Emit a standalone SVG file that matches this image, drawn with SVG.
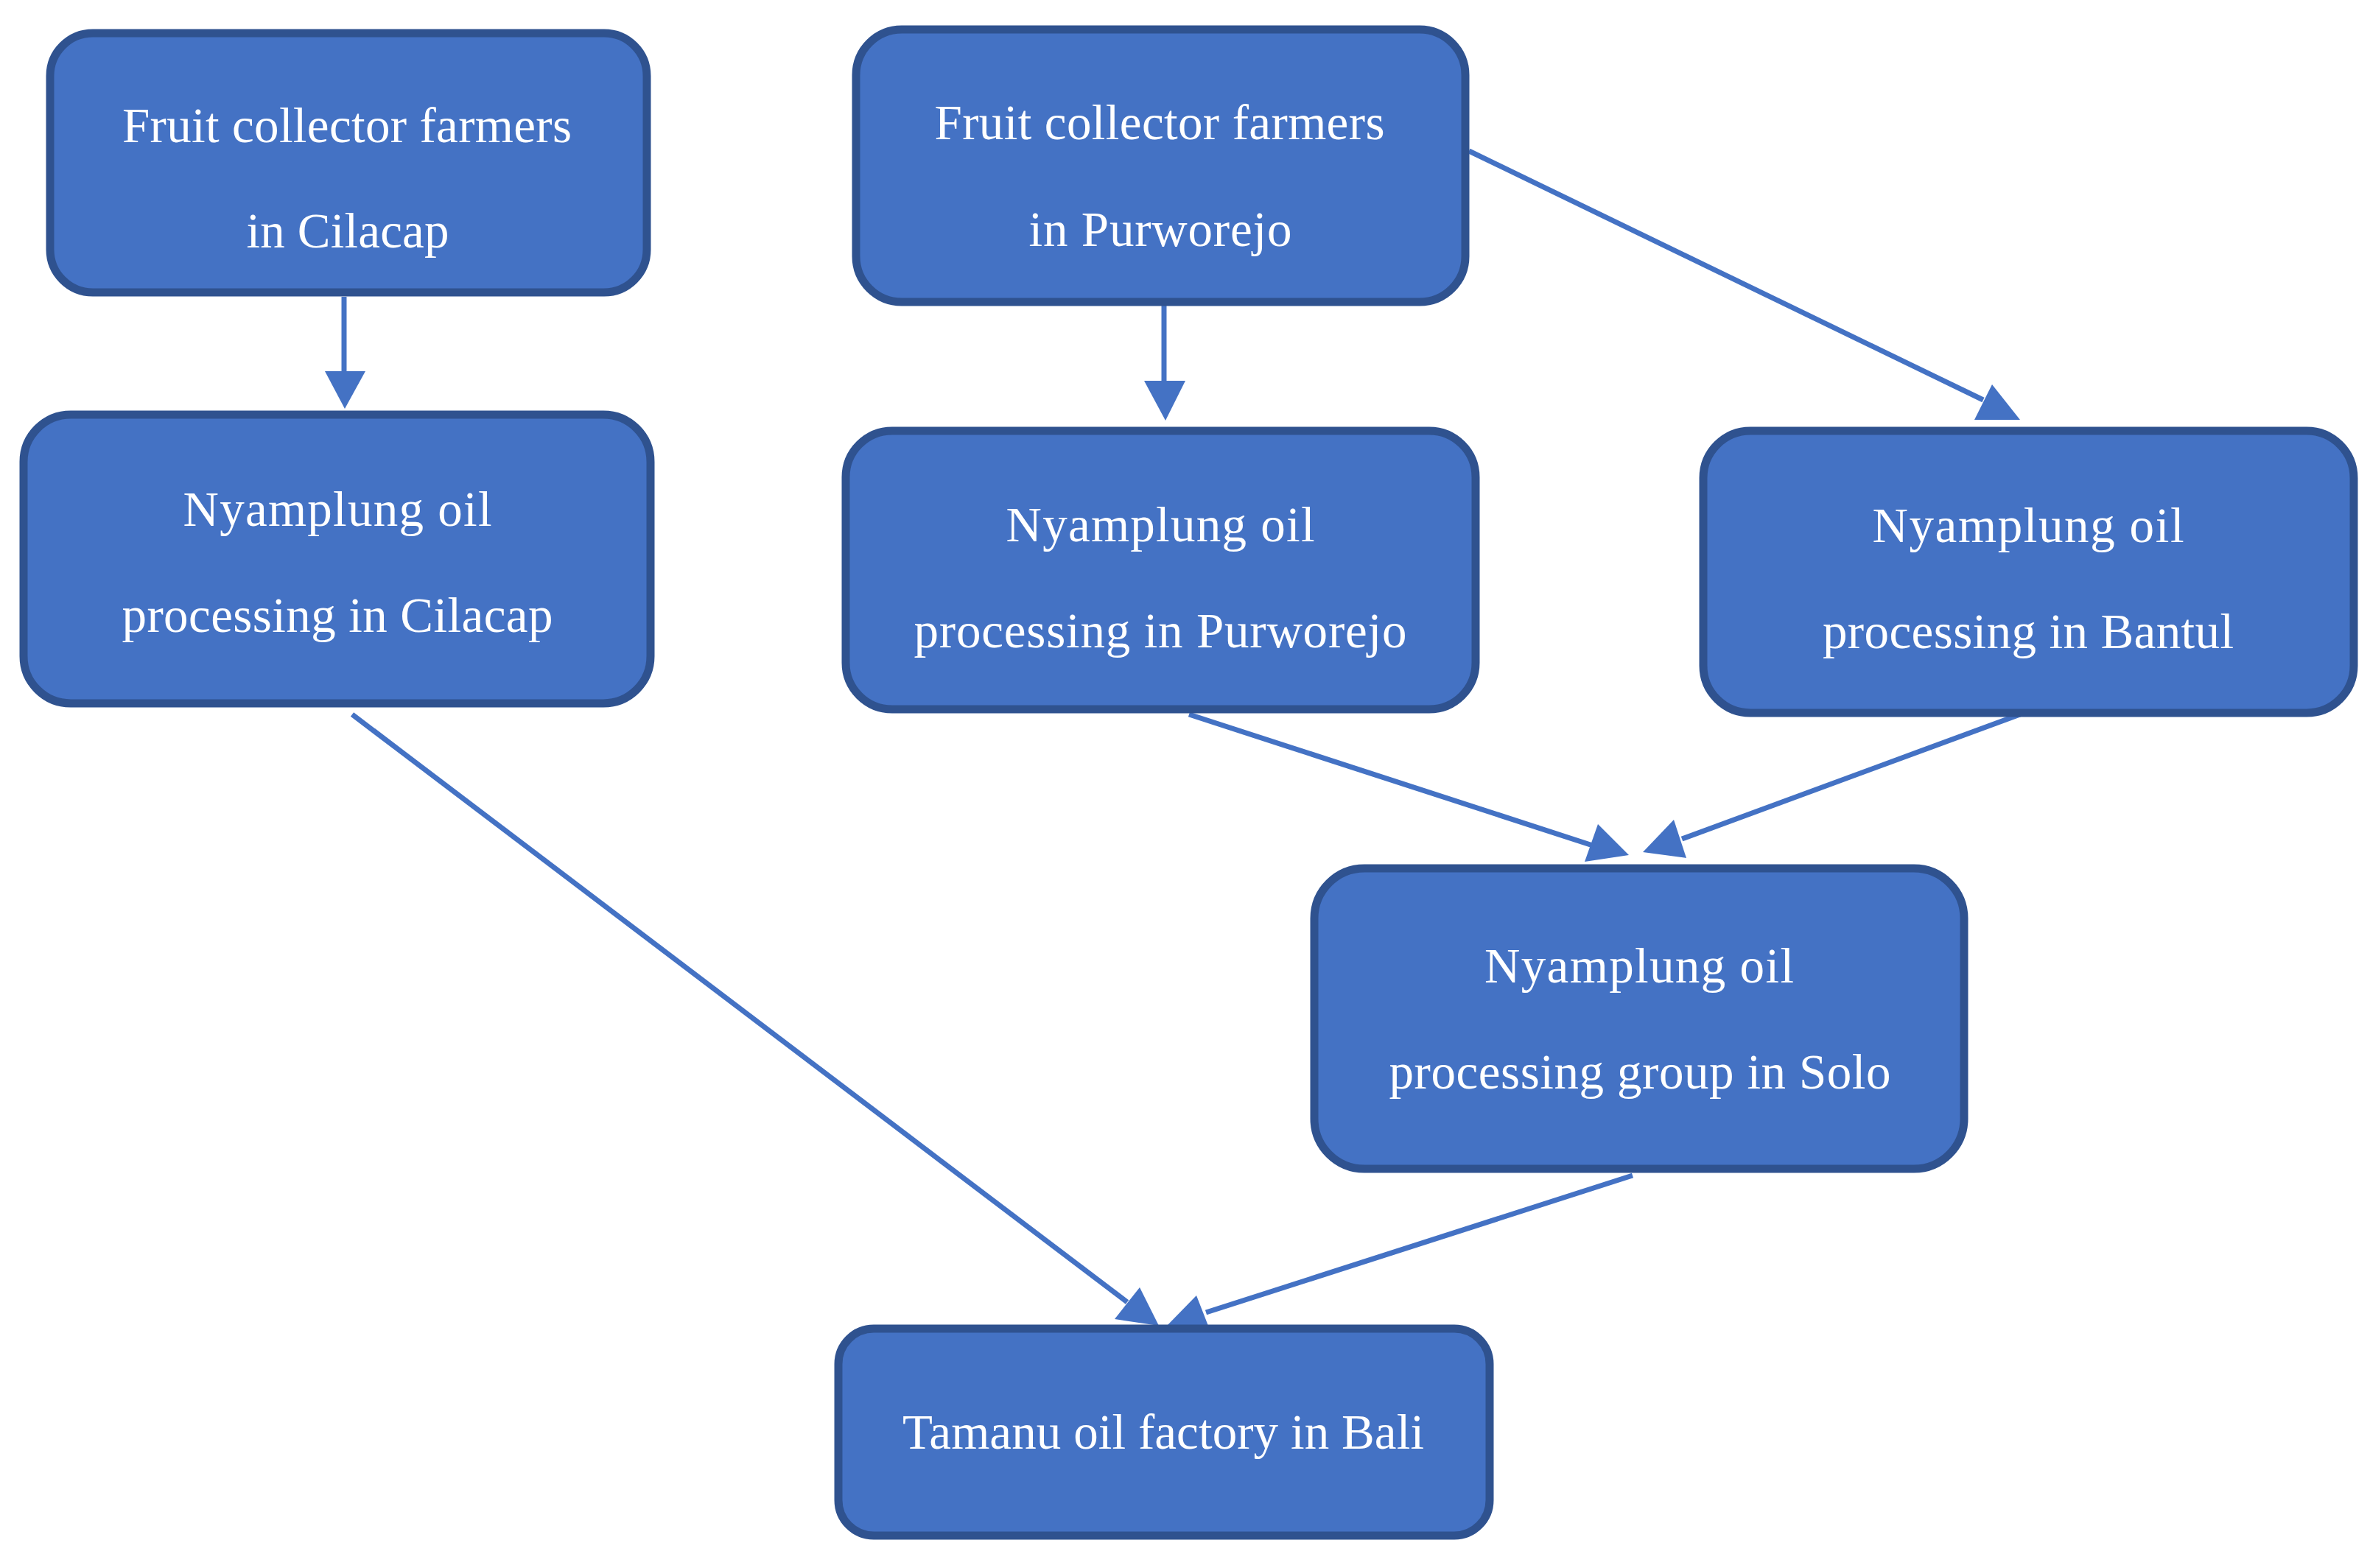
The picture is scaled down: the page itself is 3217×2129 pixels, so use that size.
<svg xmlns="http://www.w3.org/2000/svg" width="3217" height="2129" viewBox="0 0 3217 2129">
<style>
.box{fill:#4472C4;stroke:#2F528F;stroke-width:11}
.lbl{font-family:"Liberation Serif","DejaVu Serif",serif;font-size:67px;fill:#FFFFFF;text-anchor:middle}
.con{stroke:#4472C4;stroke-width:7;fill:none}
.head{fill:#4472C4;stroke:none}
</style>
<rect width="3217" height="2129" fill="#FFFFFF"/>
<g id="connectors">
<line class="con" x1="467" y1="403" x2="467" y2="506"/>
<polygon class="head" points="441,504 496,504 468,555"/>
<line class="con" x1="1580" y1="415" x2="1580" y2="519"/>
<polygon class="head" points="1553,517 1609,517 1582,571"/>
<line class="con" x1="1994" y1="205" x2="2692" y2="543"/>
<polygon class="head" points="2704,522 2680,570 2742,570"/>
<line class="con" x1="1614" y1="970" x2="2165" y2="1149"/>
<polygon class="head" points="2169,1119 2211,1161 2151,1170"/>
<line class="con" x1="2742" y1="970" x2="2283" y2="1139"/>
<polygon class="head" points="2272,1113 2230,1157 2289,1165"/>
<line class="con" x1="478" y1="970" x2="1530" y2="1768"/>
<polygon class="head" points="1547,1748 1513,1791 1573,1800"/>
<line class="con" x1="2216" y1="1596" x2="1637" y2="1782"/>
<polygon class="head" points="1624,1759 1585,1799 1640,1800"/>
</g>
<g id="n1">
<rect class="box" x="68" y="45" width="810" height="352" rx="58" ry="58"/>
<text class="lbl" x="471" y="193" textLength="610">Fruit collector farmers</text>
<text class="lbl" x="472" y="336" textLength="275">in Cilacap</text>
</g>
<g id="n2">
<rect class="box" x="32" y="563" width="851" height="392" rx="64" ry="64"/>
<text class="lbl" x="458" y="714" textLength="419">Nyamplung oil</text>
<text class="lbl" x="458" y="858" textLength="585">processing in Cilacap</text>
</g>
<g id="n3">
<rect class="box" x="1162" y="40" width="827" height="370" rx="62" ry="62"/>
<text class="lbl" x="1574" y="189" textLength="611">Fruit collector farmers</text>
<text class="lbl" x="1575" y="334" textLength="357">in Purworejo</text>
</g>
<g id="n4">
<rect class="box" x="1148" y="585" width="855" height="378" rx="63" ry="63"/>
<text class="lbl" x="1575" y="735" textLength="419">Nyamplung oil</text>
<text class="lbl" x="1575" y="879" textLength="669">processing in Purworejo</text>
</g>
<g id="n5">
<rect class="box" x="2312" y="585" width="883" height="383" rx="64" ry="64"/>
<text class="lbl" x="2753" y="736" textLength="423">Nyamplung oil</text>
<text class="lbl" x="2753" y="880" textLength="558">processing in Bantul</text>
</g>
<g id="n6">
<rect class="box" x="1784" y="1179" width="882" height="408" rx="68" ry="68"/>
<text class="lbl" x="2225" y="1334" textLength="420">Nyamplung oil</text>
<text class="lbl" x="2226" y="1478" textLength="681">processing group in Solo</text>
</g>
<g id="n7">
<rect class="box" x="1138" y="1804" width="884" height="281" rx="48" ry="48"/>
<text class="lbl" x="1579" y="1967" textLength="708">Tamanu oil factory in Bali</text>
</g>
</svg>
